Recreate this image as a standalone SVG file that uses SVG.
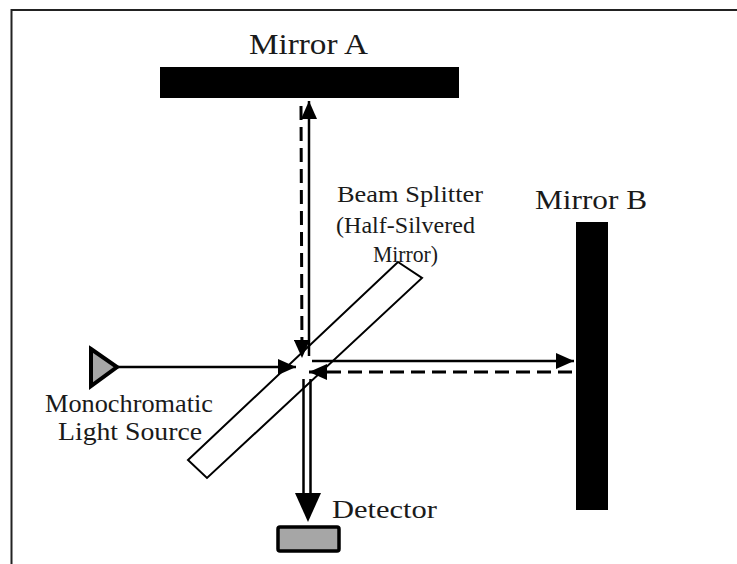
<svg xmlns="http://www.w3.org/2000/svg" width="737" height="564" viewBox="0 0 737 564">
<style>
.lbl{font-family:"Liberation Serif","Times New Roman",serif;fill:#1a1a1a}
.beam{stroke:#000;fill:none;stroke-width:2.5}
.dash{stroke:#000;fill:none;stroke-width:3;stroke-dasharray:14 7}
.mirror{fill:#000}
.gray{fill:#a6a6a6;stroke:#000}
</style>
<defs>
<marker id="arrow" markerUnits="userSpaceOnUse" markerWidth="18" markerHeight="16" refX="18" refY="8" orient="auto" viewBox="0 0 18 16">
<path d="M0,0 L18,8 L0,16 z" fill="#000"/>
</marker>
</defs>
<rect width="737" height="564" fill="#fff"/>
<g id="frame" stroke="#222" stroke-width="2" fill="none">
<path d="M11.5,564 V10 H737"/>
</g>
<g id="beam-splitter">
<polygon points="398,262 422,278 207,478 188,460" fill="#fff" stroke="#000" stroke-width="2"/>
<text class="lbl" x="337" y="202" font-size="23" textLength="146" lengthAdjust="spacingAndGlyphs">Beam Splitter</text>
<text class="lbl" x="336" y="233" font-size="23" textLength="139" lengthAdjust="spacingAndGlyphs">(Half-Silvered</text>
<text class="lbl" x="373" y="262" font-size="23" textLength="65" lengthAdjust="spacingAndGlyphs">Mirror)</text>
</g>
<g id="connectors">
<line class="beam" x1="118" y1="367" x2="296" y2="367" stroke-width="3" marker-end="url(#arrow)"/>
<line class="beam" x1="309" y1="356" x2="309" y2="101" marker-end="url(#arrow)"/>
<line class="dash" x1="301" y1="106" x2="302" y2="358" marker-end="url(#arrow)"/>
<line class="beam" x1="312" y1="361" x2="574" y2="361" marker-end="url(#arrow)"/>
<line class="dash" x1="572" y1="372" x2="309" y2="372" stroke-dasharray="13 9" marker-end="url(#arrow)"/>
<line class="beam" x1="303.5" y1="379" x2="303.5" y2="496" stroke-width="2"/>
<line class="beam" x1="310.5" y1="379" x2="310.5" y2="496" stroke-width="2"/>
<polygon points="295,493 321,493 308,522" fill="#000"/>
</g>
<g id="mirror-a">
<rect class="mirror" x="160" y="67" width="299" height="31"/>
<text class="lbl" x="249" y="54" font-size="30" textLength="119" lengthAdjust="spacingAndGlyphs">Mirror A</text>
</g>
<g id="mirror-b">
<rect class="mirror" x="576" y="222" width="32" height="288"/>
<text class="lbl" x="535" y="209" font-size="28" textLength="112" lengthAdjust="spacingAndGlyphs">Mirror B</text>
</g>
<g id="light-source">
<polygon class="gray" points="91,349 117,367 91,386" stroke-width="4" stroke-linejoin="miter"/>
<text class="lbl" x="45" y="412" font-size="25" textLength="168" lengthAdjust="spacingAndGlyphs">Monochromatic</text>
<text class="lbl" x="58" y="440" font-size="25" textLength="144" lengthAdjust="spacingAndGlyphs">Light  Source</text>
</g>
<g id="detector">
<rect class="gray" x="278" y="527" width="61" height="24" rx="2" stroke-width="3.5"/>
<text class="lbl" x="332" y="518" font-size="26" textLength="105" lengthAdjust="spacingAndGlyphs">Detector</text>
</g>
</svg>
